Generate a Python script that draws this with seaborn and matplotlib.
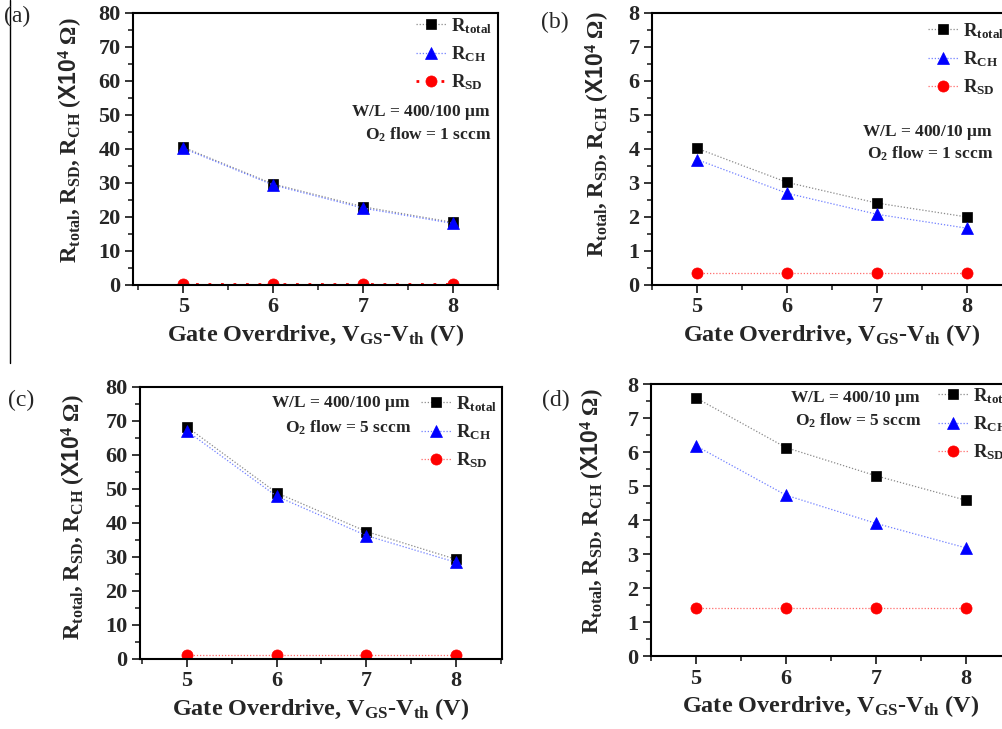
"""
Four-panel R_total / R_CH / R_SD vs gate overdrive chart.
"""

import numpy as np
import pandas as pd
import matplotlib
matplotlib.use("Agg")
import matplotlib.pyplot as plt
from matplotlib.lines import Line2D
from matplotlib.ticker import MultipleLocator
import seaborn as sns

sns.set_theme(style="ticks")
plt.rcParams.update({
    'font.family': ['Liberation Serif', 'DejaVu Serif'],
    'font.weight': 'bold',
    'mathtext.fontset': 'custom',
    'mathtext.rm': 'Liberation Serif',
    'mathtext.bf': 'Liberation Serif:bold',
    'mathtext.it': 'Liberation Serif:italic',
    'mathtext.sf': 'Liberation Sans:bold',
    'mathtext.default': 'bf',
    'axes.linewidth': 1.5,
})

# gate overdrive V_GS - V_th (V)
vov = [5, 6, 7, 8]

# resistances in units of 1e4 ohm
a_total = [40.5, 29.7, 23.0, 18.4]
a_ch = [40.2, 29.4, 22.6, 18.1]
a_sd = [0.3, 0.3, 0.3, 0.3]

b_total = [4.02, 3.02, 2.41, 2.00]
b_ch = [3.69, 2.70, 2.08, 1.67]
b_sd = [0.34, 0.34, 0.34, 0.34]

c_total = [68.3, 48.9, 37.5, 29.3]
c_ch = [67.1, 47.9, 36.3, 28.4]
c_sd = [1.3, 1.3, 1.3, 1.3]

d_total = [7.59, 6.13, 5.30, 4.58]
d_ch = [6.18, 4.73, 3.90, 3.18]
d_sd = [1.40, 1.40, 1.40, 1.40]

panel_tags = ['(a)', '(b)', '(c)', '(d)']
panel_wl = ['400/100', '400/10', '400/100', '400/10']
panel_o2 = ['1', '1', '5', '5']
panel_ymax = [80, 8, 80, 8]

W, H = 1003, 729


def px_box(left, top, right, bottom):
    return [left / W, 1 - bottom / H, (right - left) / W, (bottom - top) / H]


def draw_panel(ax, total, ch, sd, ymax, xlim, sd_style):
    df = pd.DataFrame({'V': vov * 3,
                       'R': total + ch + sd,
                       'S': ['total'] * 4 + ['ch'] * 4 + ['sd'] * 4})
    specs = [
        ('total', r'R$_{total}$', 's', 'black', '#8a8a8a', 7, (0, (1, 1.5)), 0.9),
        ('ch', r'R$_{CH}$', '^', 'blue', '#6f7fff', 8.5, (0, (1, 1.5)), 0.9),
        ('sd', r'R$_{SD}$', 'o', 'red', sd_style[2], 8, sd_style[0], sd_style[1]),
    ]
    for key, lab, mk, mcol, lcol, ms, ls, lw in specs:
        sub = df[df['S'] == key]
        sns.lineplot(data=sub, x='V', y='R', ax=ax, color=lcol, linestyle=ls,
                     linewidth=lw, marker=mk, markersize=ms,
                     markerfacecolor=mcol, markeredgecolor=mcol,
                     markeredgewidth=0.5, label=lab, legend=False)
    ax.set_xlim(*xlim)
    ax.set_ylim(0, ymax)
    ax.xaxis.set_major_locator(MultipleLocator(1))
    ax.xaxis.set_minor_locator(MultipleLocator(0.5))
    ax.yaxis.set_major_locator(MultipleLocator(ymax / 8))
    ax.yaxis.set_minor_locator(MultipleLocator(ymax / 16))
    ax.tick_params(which='major', direction='out', length=6, width=1.3,
                   labelsize=16, pad=3)
    ax.tick_params(which='minor', direction='out', length=3.5, width=1.2)
    for lb in ax.get_xticklabels() + ax.get_yticklabels():
        lb.set_fontweight('bold')
    for sp in ax.spines.values():
        sp.set_visible(True)
        sp.set_linewidth(1.5)
        sp.set_color('black')
    ax.set_xlabel(r'Gate Overdrive, V$_{GS}$-V$_{th}$ (V)', fontsize=17.5,
                  fontweight='bold', labelpad=3)
    ax.set_ylabel(r'R$_{total}$, R$_{SD}$, R$_{CH}$ ($\mathsf{X10}^{4}$ $\Omega$)',
                  fontsize=16.5, fontweight='bold')


fig = plt.figure(figsize=(W / 100, H / 100), dpi=100)

boxes = [px_box(133, 13, 498, 285), px_box(652, 13, 1012, 285),
         px_box(140, 387, 502, 659), px_box(651, 384, 1011, 656)]
xlims = [(4.44, 8.5), (4.5, 8.5), (4.48, 8.51), (4.5, 8.5)]
series = [(a_total, a_ch, a_sd), (b_total, b_ch, b_sd),
          (c_total, c_ch, c_sd), (d_total, d_ch, d_sd)]
sd_styles = [((0, (1, 3.5)), 2.0, 'red'), ((0, (1, 1.5)), 0.9, '#ff6b6b'),
             ((0, (1, 1.5)), 0.9, '#ff6b6b'), ((0, (1, 1.5)), 0.9, '#ff6b6b')]

# legend handle start and first-row centre, note right edge and row centres, in pixels
leg_pos = [(416, 24), (928, 29), (421, 402), (938, 394)]
note_pos = [(491, 113, 135), (993, 132, 154), (411, 404, 428), (921, 398, 421)]
tag_pos = [(4, 6), (541, 12), (8, 390), (542, 390)]
# y-label anchor in axes fraction
ylab_pos = [(-0.1315, 0.533), (-0.111, 0.555), (-0.1436, 0.522), (-0.122, 0.533)]

for i in range(4):
    ax = fig.add_axes(boxes[i])
    t, c, s = series[i]
    draw_panel(ax, t, c, s, panel_ymax[i], xlims[i], sd_styles[i])
    ax.yaxis.set_label_coords(*ylab_pos[i])
    lx, ly = leg_pos[i]
    ax.legend(loc='upper left', bbox_to_anchor=(lx / W, 1 - (ly - 8) / H),
              bbox_transform=fig.transFigure, frameon=False, fontsize=13.5,
              handlelength=1.6, handletextpad=0.25, labelspacing=0.45,
              borderpad=0, borderaxespad=0)
    nx, ny1, ny2 = note_pos[i]
    fig.text(nx / W, 1 - ny1 / H, 'W/L = ' + panel_wl[i] + r' $\mathbf{\mu}$m',
             ha='right', va='center', fontsize=12.5, fontweight='bold')
    fig.text(nx / W, 1 - ny2 / H, r'O$_{2}$ flow = ' + panel_o2[i] + ' sccm',
             ha='right', va='center', fontsize=12.5, fontweight='bold')
    tx, ty = tag_pos[i]
    fig.text(tx / W, 1 - ty / H, panel_tags[i], ha='left', va='top',
             fontsize=17, fontweight='normal')

# thin border line left over from the original composite
fig.add_artist(Line2D([10 / W, 10 / W], [1, 1 - 363 / H],
                      transform=fig.transFigure, color='black', lw=1))

fig.savefig('out.png', dpi=100)
